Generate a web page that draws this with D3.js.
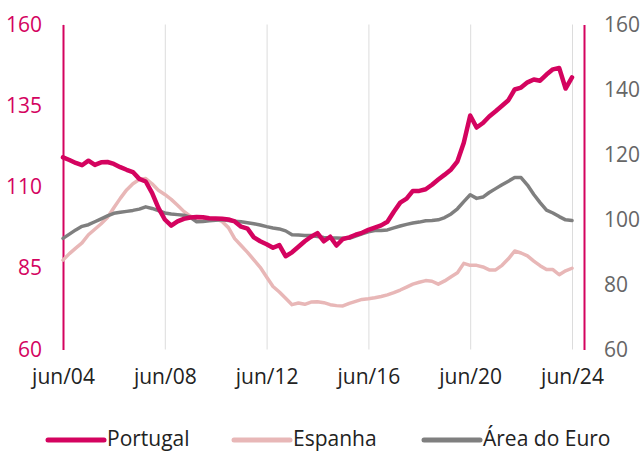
<!DOCTYPE html>
<html lang="pt">
<head>
<meta charset="utf-8">
<title>Portugal, Espanha, Área do Euro</title>
<script src="https://cdn.jsdelivr.net/npm/d3@7"></script>
<style>
  body { margin: 0; background: #fff; }
  svg text { font-family: "Open Sans", sans-serif; }
</style>
</head>
<body>
<script>
// quarterly observations, jun/04 .. jun/24
var portugal = [119.1, 118.3, 117.4, 116.7, 118.1, 116.8, 117.6, 117.7, 117.1, 116.1,
                115.3, 114.6, 112.5, 111.7, 108.2, 103.6, 100.0, 98.1, 99.4, 100.2,
                100.6, 100.8, 100.7, 100.4, 100.3, 100.2, 100.0, 99.4, 97.8, 97.2,
                94.5, 93.3, 92.4, 91.3, 92.1, 88.7, 89.9, 91.6, 93.3, 94.7,
                95.8, 93.3, 94.7, 92.0, 94.0, 94.5, 95.3, 95.9, 96.8, 97.5,
                98.2, 99.3, 102.4, 105.2, 106.4, 108.8, 108.8, 109.3, 110.7, 112.3,
                113.8, 115.4, 117.9, 123.6, 132.0, 128.3, 129.7, 131.7, 133.3, 135.0,
                136.7, 140.0, 140.6, 142.2, 143.1, 142.7, 144.6, 146.2, 146.6, 140.3,
                143.7];
var espanha = [87.5, 89.5, 91.2, 92.8, 95.3, 97.0, 98.7, 100.6, 103.6, 106.5,
               109.1, 111.0, 112.3, 112.6, 111.0, 109.0, 107.7, 106.2, 104.4, 102.5,
               101.0, 100.5, 100.4, 100.3, 100.2, 99.4, 97.5, 94.1, 92.0, 89.9,
               87.6, 85.3, 82.3, 79.4, 77.7, 75.8, 73.8, 74.3, 73.9, 74.6,
               74.7, 74.4, 73.8, 73.5, 73.4, 74.2, 74.8, 75.4, 75.6, 75.9,
               76.3, 76.8, 77.5, 78.3, 79.2, 80.1, 80.7, 81.2, 81.0, 80.1,
               81.1, 82.4, 83.6, 86.5, 85.9, 85.9, 85.4, 84.5, 84.5, 85.9,
               87.9, 90.3, 89.7, 88.8, 87.2, 85.8, 84.6, 84.6, 83.0, 84.2,
               85.0];
var areaEuro = [94.2, 95.5, 96.8, 97.9, 98.4, 99.3, 100.2, 101.1, 101.9, 102.2,
                102.5, 102.8, 103.2, 103.9, 103.4, 102.7, 102.0, 101.7, 101.5, 101.3,
                100.7, 99.3, 99.4, 99.6, 99.8, 99.9, 99.7, 99.5, 99.3, 99.0,
                98.7, 98.3, 97.8, 97.4, 97.1, 96.5, 95.3, 95.2, 95.1, 95.1,
                94.8, 94.5, 94.3, 94.3, 94.2, 94.2, 94.9, 95.6, 96.2, 96.6,
                96.6, 96.8, 97.4, 98.0, 98.5, 98.9, 99.2, 99.6, 99.7, 99.9,
                100.6, 101.7, 103.3, 105.5, 107.6, 106.5, 106.9, 108.3, 109.5, 110.7,
                111.8, 112.9, 112.9, 110.6, 107.7, 105.2, 102.9, 102.0, 100.9, 99.9,
                99.7];

var xTickLabels = ["jun/04", "jun/08", "jun/12", "jun/16", "jun/20", "jun/24"];
var leftTicks = [60, 85, 110, 135, 160];
var rightTicks = [60, 80, 100, 120, 140, 160];
var seriesNames = ["Portugal", "Espanha", "Área do Euro"];

var w = 643, h = 452;
var magenta = "#d4035f";
var colors = [magenta, "#e8b7b7", "#7f7f7f"];
var widths = [4.5, 3.5, 3.5];

// quarter dates
var dates = d3.timeMonths(new Date(2004, 5, 1), new Date(2024, 6, 1), 3);
var tickDates = xTickLabels.map(function(s) {
    return new Date(2000 + (+s.slice(4)), 5, 1);
});

var x = d3.scaleTime()
    .domain([new Date(2004, 5, 1), new Date(2024, 5, 1)])
    .range([63, 572]);
var y = d3.scaleLinear()
    .domain([60, 160])
    .range([349.5, 24.5]);

var svg = d3.select("body").append("svg")
    .attr("width", w)
    .attr("height", h);

// vertical grid
svg.append("g")
    .attr("transform", "translate(0," + y(60) + ")")
    .call(d3.axisBottom(x).tickValues(tickDates).tickSize(-(y(60) - y(160))).tickFormat(""))
    .call(function(g) {
        g.select(".domain").remove();
        g.selectAll("line").attr("stroke", "#dcdcdc").attr("stroke-width", 1);
    });

// x labels
svg.append("g")
    .attr("transform", "translate(0," + y(60) + ")")
    .call(d3.axisBottom(x).tickValues(tickDates).tickSize(0).tickPadding(0)
        .tickFormat(function(d, i) { return xTickLabels[i]; }))
    .call(function(g) {
        g.select(".domain").remove();
        g.selectAll("text")
            .attr("dy", null)
            .attr("y", 34)
            .attr("fill", "#222")
            .attr("font-size", "21px")
            .attr("font-family", "Open Sans, sans-serif");
    });

// left axis
svg.append("g")
    .attr("transform", "translate(63,0)")
    .call(d3.axisLeft(y).tickValues(leftTicks).tickSize(0).tickPadding(21))
    .call(function(g) {
        g.select(".domain").attr("stroke", magenta).attr("stroke-width", 2);
        g.selectAll("text")
            .attr("fill", magenta)
            .attr("font-size", "21px")
            .attr("font-family", "Open Sans, sans-serif");
    });

// right axis
svg.append("g")
    .attr("transform", "translate(584,0)")
    .call(d3.axisRight(y).tickValues(rightTicks).tickSize(0).tickPadding(20))
    .call(function(g) {
        g.select(".domain").attr("stroke", magenta).attr("stroke-width", 2);
        g.selectAll("text")
            .attr("fill", "#666")
            .attr("font-size", "21px")
            .attr("font-family", "Open Sans, sans-serif");
    });

// lines, drawn Espanha, Euro, Portugal so Portugal sits on top
var allSeries = [portugal, espanha, areaEuro];
var line = d3.line()
    .x(function(d, i) { return x(dates[i]); })
    .y(function(d) { return y(d); });

[1, 2, 0].forEach(function(k) {
    svg.append("path")
        .datum(allSeries[k])
        .attr("fill", "none")
        .attr("stroke", colors[k])
        .attr("stroke-width", widths[k])
        .attr("stroke-linejoin", "round")
        .attr("stroke-linecap", "round")
        .attr("d", line);
});

// legend
var legendX = [48, 234, 424];
var legend = svg.append("g");
seriesNames.forEach(function(name, i) {
    legend.append("line")
        .attr("x1", legendX[i]).attr("x2", legendX[i] + 56)
        .attr("y1", 440).attr("y2", 440)
        .attr("stroke", colors[i])
        .attr("stroke-width", 5)
        .attr("stroke-linecap", "round");
    legend.append("text")
        .attr("x", legendX[i] + 59)
        .attr("y", 446)
        .attr("fill", "#222")
        .attr("font-size", "21px")
        .text(name);
});
</script>
</body>
</html>
